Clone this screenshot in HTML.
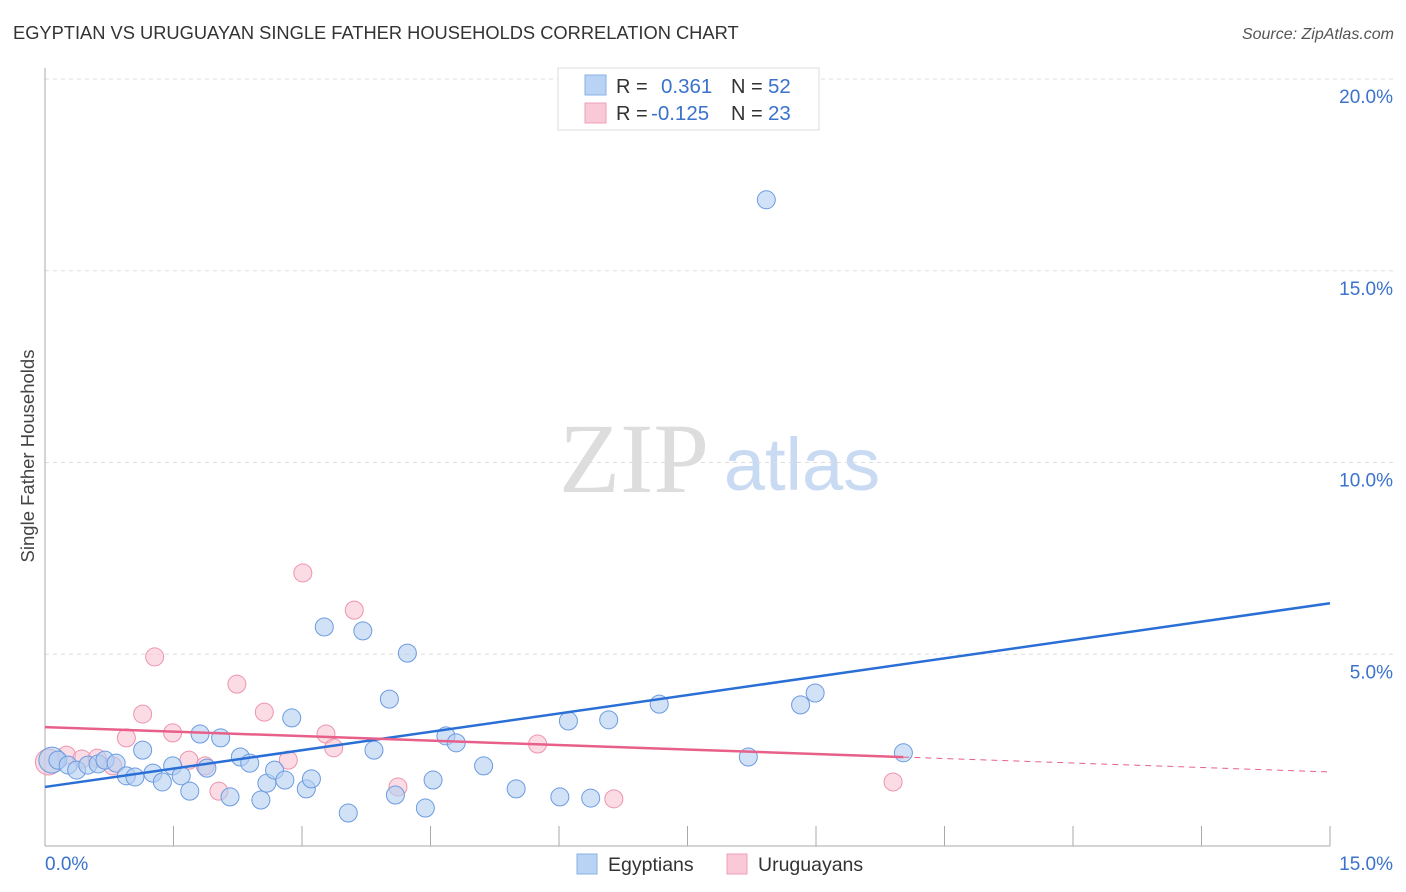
<!DOCTYPE html>
<html><head><meta charset="utf-8">
<style>
body{margin:0;background:#fff;font-family:"Liberation Sans",sans-serif;}
svg{display:block}
</style></head>
<body>
<svg id="chart" width="1406" height="892" xmlns="http://www.w3.org/2000/svg" font-family="Liberation Sans, sans-serif">
<text x="13" y="39" font-size="18.3" fill="#333">EGYPTIAN VS URUGUAYAN SINGLE FATHER HOUSEHOLDS CORRELATION CHART</text>
<text x="1394" y="39" font-size="16" fill="#555" text-anchor="end" font-style="italic">Source: ZipAtlas.com</text>
<text transform="translate(34,456) rotate(-90)" font-size="18.5" fill="#444" text-anchor="middle">Single Father Households</text>
<g>
<text x="634" y="492" font-size="100" font-family="Liberation Serif, serif" fill="#ddd" text-anchor="middle">ZIP</text>
<text x="802" y="490" font-size="74" fill="#c9daf3" text-anchor="middle">atlas</text>
</g>
<g id="grid"></g>
<g id="axes"></g>
<g id="marks"></g>
<g>
<rect x="558" y="68" width="261" height="62" fill="#fff" stroke="#ddd"/>
<rect x="585" y="75" width="21" height="20" fill="#b9d3f5" stroke="#8ab0e6"/>
<rect x="585" y="103" width="21" height="20" fill="#f9c9d7" stroke="#f0a0b8"/>
<text x="616" y="93" font-size="20" fill="#333">R = </text><text x="661" y="93" font-size="20.5" fill="#3a72cc">0.361</text>
<text x="731" y="93" font-size="20" fill="#333">N = </text><text x="768" y="93" font-size="20.5" fill="#3a72cc">52</text>
<text x="616" y="120" font-size="20" fill="#333">R = </text><text x="651" y="120" font-size="20.5" fill="#3a72cc">-0.125</text>
<text x="731" y="120" font-size="20" fill="#333">N = </text><text x="768" y="120" font-size="20.5" fill="#3a72cc">23</text>
</g>
<g>
<rect x="577" y="854" width="20" height="20" fill="#b9d3f5" stroke="#8ab0e6"/>
<text x="608" y="871" font-size="19.5" fill="#333">Egyptians</text>
<rect x="727" y="854" width="20" height="20" fill="#f9c9d7" stroke="#f0a0b8"/>
<text x="758" y="871" font-size="19.5" fill="#333">Uruguayans</text>
</g>
</svg>
<script>
const yTicks=[5,10,15,20];
const yTickLabels=["5.0%","10.0%","15.0%","20.0%"];
const xTicks=[0,1.5,3,4.5,6,7.5,9,10.5,12,13.5,15];
const blueX=[0.08,0.15,0.27,0.37,0.50,0.62,0.70,0.83,0.95,1.05,1.14,1.26,1.37,1.49,1.59,1.69,1.81,1.89,2.05,2.16,2.28,2.39,2.52,2.59,2.68,2.80,2.88,3.05,3.11,3.26,3.54,3.71,3.84,4.02,4.09,4.23,4.44,4.53,4.68,4.80,5.12,5.50,6.01,6.11,6.37,6.58,7.17,8.21,8.42,8.82,8.99,10.02];
const blueY=[2.24,2.24,2.11,1.98,2.11,2.14,2.24,2.16,1.83,1.80,2.50,1.90,1.67,2.09,1.83,1.43,2.92,2.03,2.82,1.28,2.32,2.16,1.20,1.64,1.98,1.72,3.34,1.49,1.75,5.71,0.86,5.61,2.50,3.83,1.33,5.03,0.99,1.72,2.87,2.69,2.09,1.49,1.28,3.26,1.25,3.29,3.70,2.32,16.85,3.68,3.99,2.43];
const pinkX=[0.04,0.25,0.43,0.61,0.79,0.95,1.14,1.28,1.49,1.68,1.87,2.03,2.24,2.56,2.84,3.01,3.28,3.37,3.61,4.12,5.75,6.64,9.90];
const pinkY=[2.19,2.37,2.27,2.29,2.09,2.82,3.44,4.93,2.95,2.24,2.09,1.43,4.22,3.49,2.24,7.12,2.92,2.56,6.15,1.54,2.66,1.23,1.67];
const blueTrend=[1.54,6.33];
const pinkTrend=[3.10,1.93];
const pinkSolidEnd=10.02;

const NS="http://www.w3.org/2000/svg";
const X0=45,X1=1330,Y0=846,Y20=79;
const sx=v=>X0+(v/15)*(X1-X0);
const sy=v=>Y0-(v/20)*(Y0-Y20);
function mk(tag,attrs,parent){const e=document.createElementNS(NS,tag);for(const k in attrs)e.setAttribute(k,attrs[k]);document.getElementById(parent).appendChild(e);return e;}

yTicks.forEach((t,i)=>{
  const l=mk('line',{x1:X0,x2:1395,y1:sy(t),y2:sy(t),stroke:'#ddd','stroke-dasharray':'4,4'},'grid');
  
  
  const tx=mk('text',{x:1393,y:sy(t)+24,'font-size':19,fill:'#3a72cc','text-anchor':'end'},'grid');
  tx.textContent=yTickLabels[i];
  
  
});
const ya=mk('line',{x1:X0,x2:X0,y1:68,y2:Y0,stroke:'#aaa'},'axes');


const xa=mk('line',{x1:X0,x2:X1,y1:Y0,y2:Y0,stroke:'#aaa'},'axes');


xTicks.forEach(t=>{
  const l=mk('line',{x1:sx(t),x2:sx(t),y1:826,y2:Y0,stroke:'#aaa'},'axes');
  
  
});
const xl0=mk('text',{x:45,y:870,'font-size':19,fill:'#3a72cc'},'axes');xl0.textContent='0.0%';


const xl1=mk('text',{x:1393,y:870,'font-size':19,fill:'#3a72cc','text-anchor':'end'},'axes');xl1.textContent='15.0%';



pinkX.forEach((x,i)=>{
  const c=mk('circle',{cx:sx(x),cy:sy(pinkY[i]),r:i===0?13:9,fill:'#f7bfd0','fill-opacity':0.55,stroke:'#ee93ae','stroke-width':1},'marks');
  
  
});
blueX.forEach((x,i)=>{
  const c=mk('circle',{cx:sx(x),cy:sy(blueY[i]),r:i===0?13:9,fill:'#b3cff2','fill-opacity':0.6,stroke:'#6c9be0','stroke-width':1},'marks');
  
  
});
const bl=mk('line',{x1:sx(0),y1:sy(blueTrend[0]),x2:sx(15),y2:sy(blueTrend[1]),stroke:'#2a6fd6','stroke-width':2.5},'marks');


const pe=pinkTrend[0]+(pinkTrend[1]-pinkTrend[0])*pinkSolidEnd/15;
const pl=mk('line',{x1:sx(0),y1:sy(pinkTrend[0]),x2:sx(pinkSolidEnd),y2:sy(pe),stroke:'#e8608a','stroke-width':2.5},'marks');


const pd=mk('line',{x1:sx(pinkSolidEnd),y1:sy(pe),x2:sx(15),y2:sy(pinkTrend[1]),stroke:'#e8608a','stroke-width':1,'stroke-dasharray':'6,5'},'marks');


</script>
</body></html>
